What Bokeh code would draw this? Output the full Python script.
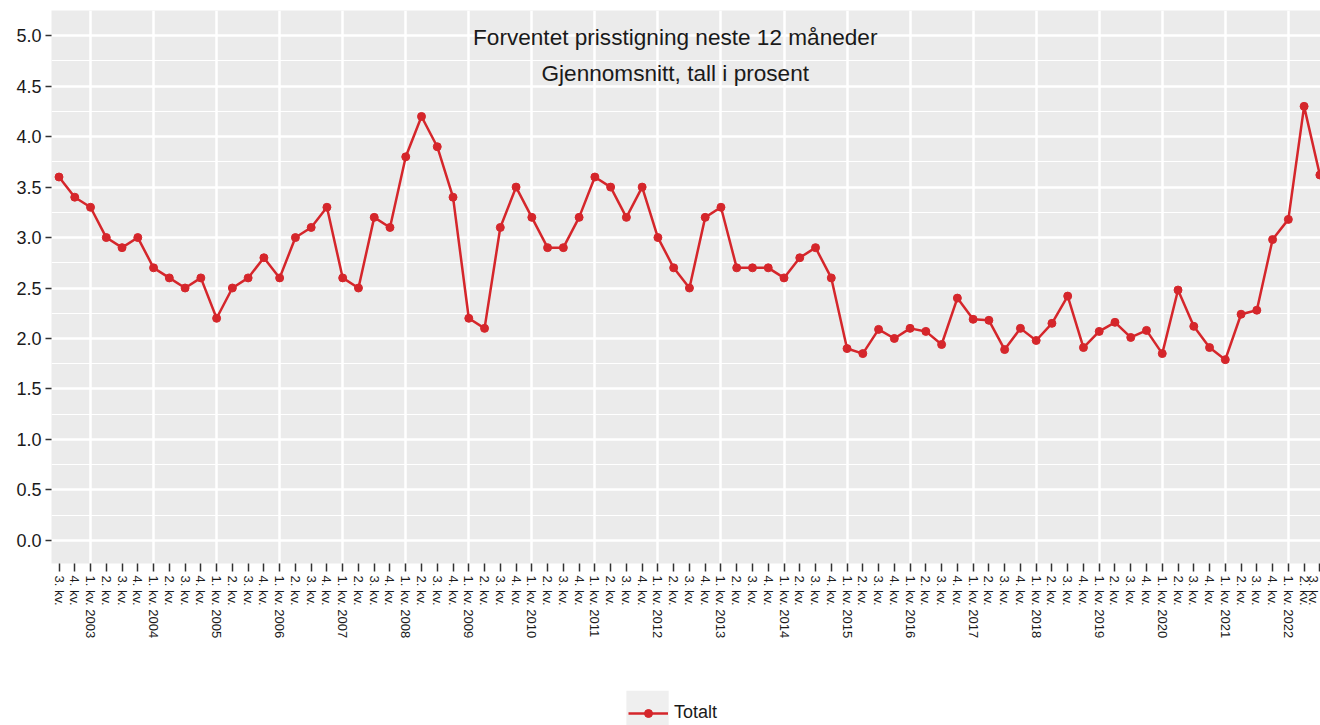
import math
from bokeh.plotting import figure
from bokeh.models import (ColumnDataSource, Range1d, FixedTicker, NumeralTickFormatter,
                          Label, Legend, LegendItem, BoxAnnotation)
from bokeh.layouts import column
from bokeh.embed import file_html
from bokeh.resources import INLINE

# ---------------- data ----------------
years = [2002, 2002] + [y for y in range(2003, 2022) for _ in range(4)] + [2022, 2022, 2022]
quarters = [3, 4] + [1, 2, 3, 4] * 19 + [1, 2, 3]
quarter_labels = [f"{q}. kv. {y}" if q == 1 else f"{q}. kv." for y, q in zip(years, quarters)]

totalt = [
    3.6, 3.4,                    # 2002 Q3-Q4
    3.3, 3.0, 2.9, 3.0,          # 2003
    2.7, 2.6, 2.5, 2.6,          # 2004
    2.2, 2.5, 2.6, 2.8,          # 2005
    2.6, 3.0, 3.1, 3.3,          # 2006
    2.6, 2.5, 3.2, 3.1,          # 2007
    3.8, 4.2, 3.9, 3.4,          # 2008
    2.2, 2.1, 3.1, 3.5,          # 2009
    3.2, 2.9, 2.9, 3.2,          # 2010
    3.6, 3.5, 3.2, 3.5,          # 2011
    3.0, 2.7, 2.5, 3.2,          # 2012
    3.3, 2.7, 2.7, 2.7,          # 2013
    2.6, 2.8, 2.9, 2.6,          # 2014
    1.9, 1.85, 2.09, 2.0,        # 2015
    2.1, 2.07, 1.94, 2.4,        # 2016
    2.19, 2.18, 1.89, 2.1,       # 2017
    1.98, 2.15, 2.42, 1.91,      # 2018
    2.07, 2.16, 2.01, 2.08,      # 2019
    1.85, 2.48, 2.12, 1.91,      # 2020
    1.79, 2.24, 2.28, 2.98,      # 2021
    3.18, 4.30, 3.62,            # 2022 Q1-Q3
]

y_ticks = [0.0, 0.5, 1.0, 1.5, 2.0, 2.5, 3.0, 3.5, 4.0, 4.5, 5.0]
y_minor = [0.25, 0.75, 1.25, 1.75, 2.25, 2.75, 3.25, 3.75, 4.25, 4.75, 5.25]

title_text = "Forventet prisstigning neste 12 måneder"
subtitle_text = "Gjennomsnitt, tall i prosent"
series_name = "Totalt"

# ---------------- styling ----------------
FONT = "Liberation Sans"
RED = "#D5262B"
TEXT = "#1A1A1A"

x_pos = list(range(len(quarter_labels)))
q1_pos = [i for i, q in zip(x_pos, quarters) if q == 1]
src = ColumnDataSource(dict(x=x_pos, y=totalt, label=quarter_labels))

p = figure(width=1320, height=690,
           x_range=Range1d(-0.476, 80.04), y_range=Range1d(-0.23, 5.25),
           output_backend="svg", toolbar_location=None,
           min_border_left=51, min_border_right=0, min_border_top=10, min_border_bottom=127,
           background_fill_color="#EBEBEB", border_fill_color="white",
           outline_line_color=None)

# axes
for ax in (p.xaxis, p.yaxis):
    ax.axis_line_color = None
    ax.major_tick_line_color = "#333333"
    ax.major_tick_line_width = 1.5
    ax.major_tick_in = 0
    ax.minor_tick_line_color = None
    ax.minor_tick_in = 0
    ax.minor_tick_out = 0
    ax.major_label_text_color = TEXT
    ax.major_label_text_font = FONT

p.xaxis.ticker = FixedTicker(ticks=x_pos)
p.xaxis.major_label_overrides = {i: lab for i, lab in zip(x_pos, quarter_labels)}
p.xaxis.major_label_orientation = -math.pi / 2
p.xaxis.major_tick_out = 8
p.xaxis.major_label_standoff = 4
p.xaxis.major_label_text_font_size = "13px"

p.yaxis.ticker = FixedTicker(ticks=y_ticks, minor_ticks=y_minor)
p.yaxis.formatter = NumeralTickFormatter(format="0.0")
p.yaxis.major_tick_out = 6
p.yaxis.major_label_standoff = 4
p.yaxis.major_label_text_font_size = "18px"

# grid
p.xgrid.ticker = FixedTicker(ticks=q1_pos)
p.xgrid.grid_line_color = "white"
p.xgrid.grid_line_width = 2.5
p.ygrid.grid_line_color = "white"
p.ygrid.grid_line_width = 2.5
p.ygrid.minor_grid_line_color = "white"
p.ygrid.minor_grid_line_width = 1.2

# data
p.line("x", "y", source=src, line_color=RED, line_width=2.5)
p.scatter("x", "y", source=src, size=8, fill_color=RED, line_color=RED)

# titles inside panel
p.add_layout(Label(x=39.1, y=4.98, text=title_text, text_align="center",
                   text_baseline="middle", text_font=FONT, text_font_size="22.6px",
                   text_color=TEXT))
p.add_layout(Label(x=39.1, y=4.63, text=subtitle_text, text_align="center",
                   text_baseline="middle", text_font=FONT, text_font_size="22.6px",
                   text_color=TEXT))

# legend strip (its renderers draw the same series, but outside the visible range)
leg = figure(width=1320, height=35, x_range=Range1d(0, 1320), y_range=Range1d(-1000, -999),
             output_backend="svg", toolbar_location=None,
             x_axis_type=None, y_axis_type=None, min_border=0,
             outline_line_color=None, background_fill_color="white",
             border_fill_color="white")
# grey legend-key background
leg.add_layout(BoxAnnotation(left=598, right=642, fill_color="#EFEFEF", fill_alpha=1.0,
                             line_color=None))
lr = leg.line("x", "y", source=src, line_color=RED, line_width=2.5)
ls = leg.scatter("x", "y", source=src, size=8, fill_color=RED, line_color=RED)
legend = Legend(items=[LegendItem(label=series_name, renderers=[lr, ls])],
                location=(577, 2), orientation="horizontal", padding=0, margin=0,
                glyph_width=40, glyph_height=20, label_standoff=6,
                label_text_font=FONT, label_text_font_size="18px",
                label_text_color=TEXT, border_line_color=None,
                background_fill_alpha=0)
leg.add_layout(legend, "center")

layout = column(p, leg)
open("out.html", "w").write(file_html(layout, INLINE))
